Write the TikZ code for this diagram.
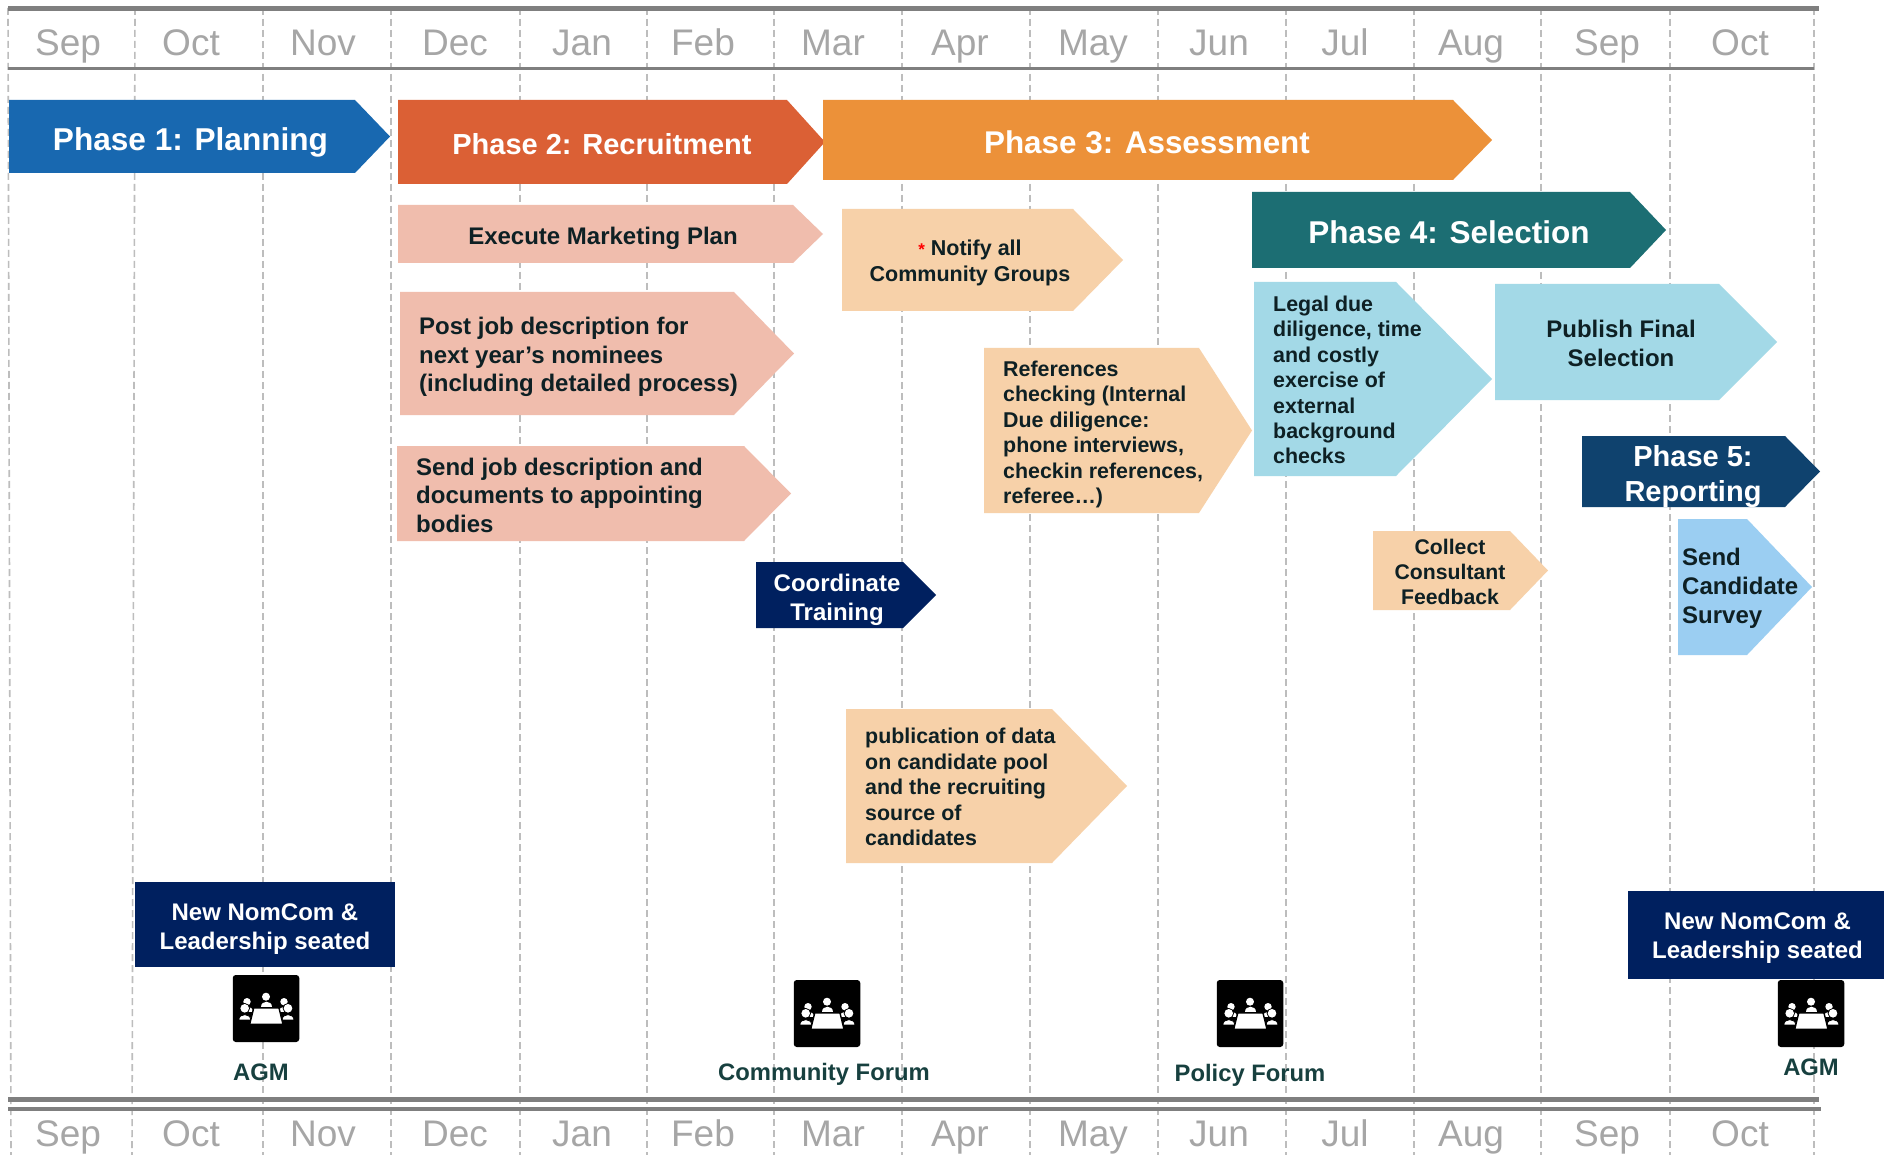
\documentclass[tikz,border=0pt]{standalone}
\usepackage{fontspec}
\setmainfont{Liberation Sans}
\definecolor{grayrule}{HTML}{7F7F7F}
\definecolor{grid}{HTML}{BDBDBD}
\definecolor{month}{HTML}{A6A6A6}
\definecolor{phaseone}{HTML}{1868B0}
\definecolor{phasetwo}{HTML}{DB6035}
\definecolor{phasethree}{HTML}{EC9139}
\definecolor{phasefour}{HTML}{1C6E73}
\definecolor{phasefive}{HTML}{0F426E}
\definecolor{salmon}{HTML}{F0BDAD}
\definecolor{peach}{HTML}{F7D1A9}
\definecolor{skyb}{HTML}{A3D9E7}
\definecolor{surveyb}{HTML}{9BCEF2}
\definecolor{navy}{HTML}{00205F}
\definecolor{ink}{HTML}{0E2024}
\definecolor{tealink}{HTML}{17403F}
\newcommand{\garrow}[7]{\fill[#7] (#1,#4) -- (#2,#4) -- (#3,{(#4+#5)/2}) -- (#2,#5) -- (#1,#5) -- cycle;}
\newcommand{\meeticon}[3]{%
 \begin{scope}[shift={(#1,#2)}]
  \node[iconbox] (#3) at (33,33.5) {};
  \foreach \px/\py/\pr in {33/21.7/4,14/26.7/3.7,51/26.7/3.7}{
   \fill[white] (\px,\py) circle (\pr);
   \fill[white] (\px-5.5,\py+10.5) .. controls (\px-5.5,\py+3.5) and (\px+5.5,\py+3.5) .. (\px+5.5,\py+10.5) -- cycle;}
  \foreach \px/\py in {11.7/33.3,55/33.3}{
   \fill[black] (\px,\py) circle (5.3);
   \fill[white] (\px,\py) circle (4.3);
   \filldraw[white,draw=black,line width=0.8pt] (\px-6,\py+11.7) .. controls (\px-6,\py+4.5) and (\px+6,\py+4.5) .. (\px+6,\py+11.7) -- cycle;}
  \filldraw[white,draw=black,line width=1.4pt] (20.7,33) -- (46,33) -- (50,49.3) -- (16.7,49.3) -- cycle;
 \end{scope}}
\tikzset{
 x=1pt,y=-1pt,
 iconbox/.style={fill=black,rounded corners=3pt,minimum width=66.5pt,minimum height=67pt,inner sep=0pt},
 gridline/.style={draw=grid,line width=1.6pt,dash pattern=on 7pt off 4pt},
 monthlbl/.style={text=month,inner sep=0pt,anchor=base,font=\fontsize{37}{37}\selectfont},
 wlbl/.style 2 args={text=white,inner sep=0pt,align=center,font=\fontsize{#1}{#2}\selectfont\bfseries},
 tlbl/.style n args={3}{text=ink,inner sep=0pt,align=#1,font=\fontsize{#2}{#3}\selectfont\bfseries},
 glbl/.style={text=tealink,inner sep=0pt,anchor=base,font=\fontsize{23.8}{24}\selectfont\bfseries},
}
\begin{document}
\begin{tikzpicture}
\useasboundingbox (0,0) rectangle (1884,1155);
\fill[white] (0,0) rectangle (1884,1155);
% grid
\draw[gridline] (8,8) -- (11,1155);
\draw[gridline] (135,8) -- (132,1155);
\foreach \gx in {263,391,520,647,774,902,1030,1158,1286,1414,1541,1670,1814}
  \draw[gridline] (\gx,8) -- (\gx,1155);
% rules
\draw[grayrule,line width=5pt] (8,8.5) -- (1819,8.5);
\draw[grayrule,line width=3.5pt] (8,68.5) -- (1814,68.5);
\draw[grayrule,line width=5pt] (8,1099) -- (1819,1099);
\draw[grayrule,line width=3.5pt] (8,1109) -- (1821,1109);
% months
\foreach \mx/\mn/\id in {68/Sep/a,191/Oct/b,323/Nov/c,455/Dec/d,582/Jan/e,703/Feb/f,833/Mar/g,960/Apr/h,1093/May/i,1219/Jun/j,1345/Jul/k,1471/Aug/l,1607/Sep/m,1740/Oct/n}{
  \node[monthlbl] (top\id) at (\mx,56) {\mn};
  \node[monthlbl] (bot\id) at (\mx,1146) {\mn};
}
% arrows
\garrow{9}{355}{390}{100}{173}{}{phaseone}
\garrow{398}{787}{825}{100}{184}{}{phasetwo}
\garrow{823}{1453}{1492}{100}{180}{}{phasethree}
\garrow{398}{793}{823}{205}{263}{}{salmon}
\garrow{400}{734}{794}{292}{415}{}{salmon}
\garrow{397}{744}{791}{446}{541}{}{salmon}
\garrow{842}{1073}{1123}{209}{311}{}{peach}
\garrow{984}{1199}{1252}{348}{513}{}{peach}
\garrow{1252}{1630}{1666}{192}{268}{}{phasefour}
\garrow{1254}{1396}{1492}{282}{476}{}{skyb}
\garrow{1495}{1719}{1777}{284}{400}{}{skyb}
\garrow{1582}{1785}{1820}{436}{507}{}{phasefive}
\garrow{1678}{1747}{1812}{519}{655}{}{surveyb}
\garrow{1373}{1510}{1548}{531}{610}{}{peach}
\garrow{756}{903}{936}{562}{628}{}{navy}
\garrow{846}{1052}{1127}{709}{863}{}{peach}
% labels
\node[wlbl={31.6}{32}] (p1) at (190.5,142.5) {Phase 1: Planning};
\node[wlbl={29}{30}] (p2) at (602,144) {Phase 2: Recruitment};
\node[wlbl={31.4}{32}] (p3) at (1147,142) {Phase 3: Assessment};
\node[wlbl={31.5}{32}] (p4) at (1449,232) {Phase 4: Selection};
\node[wlbl={29}{35}] (p5) at (1693,476.5) {Phase 5:\\Reporting};
\node[tlbl={center}{24}{28}] (exec) at (603,238.5) {Execute Marketing Plan};
\node[tlbl={left}{24}{28.3}] (post) [anchor=west] at (419,357) {Post job description for\\next year’s nominees\\(including detailed process)};
\node[tlbl={left}{24}{28.5}] (send) [anchor=west] at (416,495) {Send job description and\\documents to appointing\\bodies};
\node[tlbl={center}{21.5}{26}] (notify) at (970,263) {{\fontsize{17}{17}\selectfont\textcolor{red}{*}} Notify all\\Community Groups};
\node[tlbl={left}{21.4}{25.4}] (refs) [anchor=west] at (1003,434.5) {References\\checking (Internal\\Due diligence:\\phone interviews,\\checkin references,\\referee…)};
\node[tlbl={left}{21.4}{25.4}] (legal) [anchor=west] at (1273,380) {Legal due\\diligence, time\\and costly\\exercise of\\external\\background\\checks};
\node[tlbl={center}{24}{29}] (pub) at (1621,343) {Publish Final\\Selection};
\node[tlbl={left}{24}{29}] (surv) [anchor=west] at (1682,588.5) {Send\\Candidate\\Survey};
\node[tlbl={center}{21.2}{25}] (coll) at (1450,572) {Collect\\Consultant\\Feedback};
\node[wlbl={24}{29}] (coord) at (837,600) {Coordinate\\Training};
\node[tlbl={left}{21.4}{25.5}] (publ) [anchor=west] at (865,787) {publication of data\\on candidate pool\\and the recruiting\\source of\\candidates};
% seated boxes
\fill[navy] (135,882) rectangle (395,967);
\fill[navy] (1628,891) rectangle (1884,979);
\node[wlbl={24}{29}] (seatl) at (265,929) {New NomCom \&\\Leadership seated};
\node[wlbl={24}{29}] (seatr) at (1757.5,938.5) {New NomCom \&\\Leadership seated};
% icons
\meeticon{233}{975}{iconA}
\meeticon{794}{980}{iconB}
\meeticon{1217}{980}{iconC}
\meeticon{1778}{980}{iconD}
\node[glbl] (agml) at (261,1080) {AGM};
\node[glbl] (cf) at (824,1080) {Community Forum};
\node[glbl] (pf) at (1250,1081) {Policy Forum};
\node[glbl] (agmr) at (1811,1075) {AGM};
\end{tikzpicture}
\end{document}
